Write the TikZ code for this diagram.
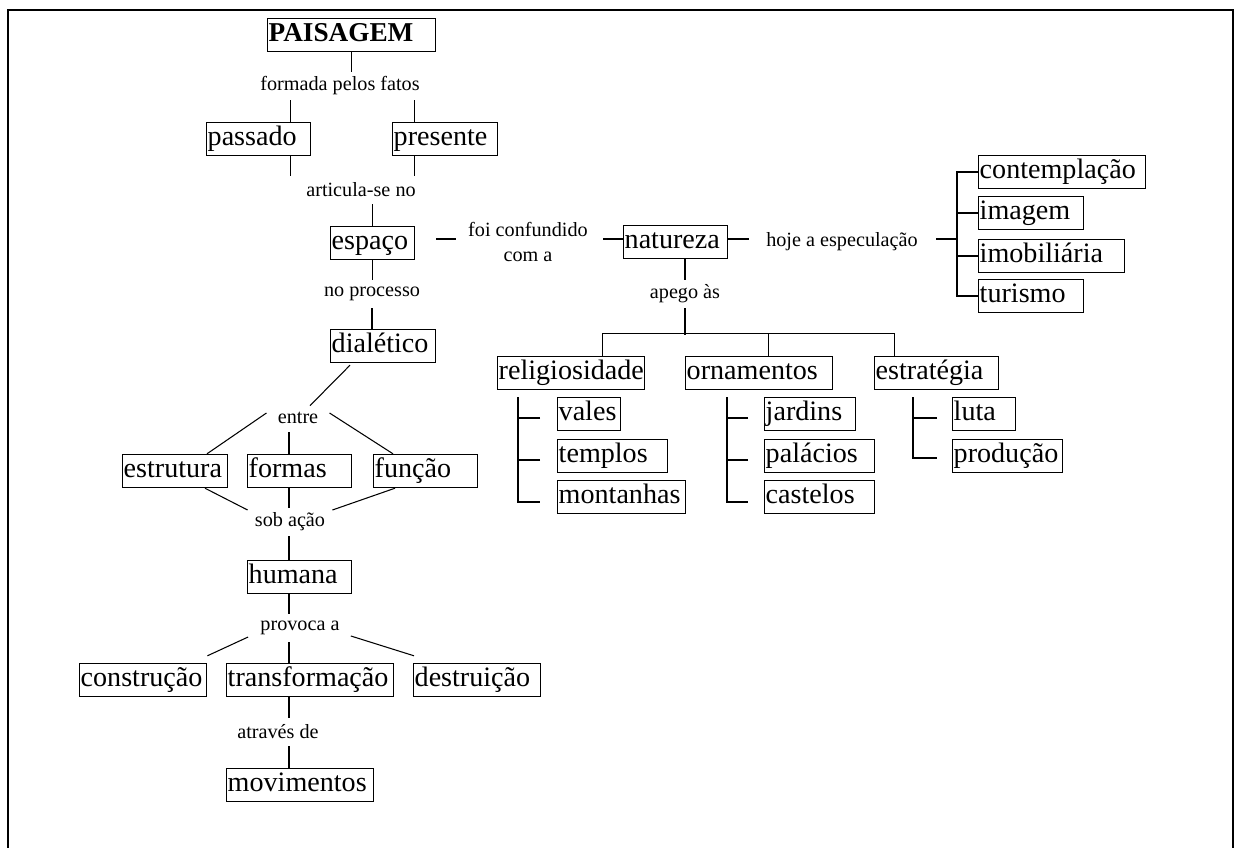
\documentclass[tikz,border=0pt]{standalone}
\usepackage{fontspec}
\setmainfont{Liberation Serif}
\usetikzlibrary{calc}
\tikzset{
  caixa/.style={draw, line width=0.8pt, anchor=west, inner xsep=0.02cm, inner ysep=0pt,
    minimum height=0.66cm, text height=11pt, text depth=3.5pt,
    text width=#1*0.02cm-0.04cm, align=left, font=\fontsize{16}{18}\selectfont},
  rotulo/.style={inner sep=0pt, minimum height=0.56cm, align=center,
    font=\fontsize{11.5}{14}\selectfont},
  liga/.style={line width=0.6pt},
  moldura/.style={line width=1.6pt}
}

\begin{document}
\begin{tikzpicture}[x=0.02cm,y=-0.02cm]
\useasboundingbox (0,0) rectangle (1237,848);
\draw[moldura] (8,860) |- (1233,10) -- (1233,860);

\node[caixa=168, font=\fontsize{15.5}{18}\selectfont\bfseries] (pai) at (267,35) {PAISAGEM};
\node[rotulo] (fatos) at (340,86) {formada pelos fatos};
\node[caixa=104] (pas) at (206,139) {passado};
\node[caixa=105] (pre) at (392,139) {presente};
\node[rotulo] (artic) at (361,190) {articula-se no};
\node[caixa=84] (esp) at (330,243) {espaço};
\node[rotulo] (proc) at (372,294) {no processo};
\node[caixa=105] (dia) at (330,346) {dialético};
\node[rotulo] (conf) at (528,242) {foi confundido\\com a};
\node[caixa=104] (nat) at (623,242) {natureza};
\node[rotulo] (hoje) at (842,242) {hoje a especulação};
\node[caixa=167] (cont) at (978,172) {contemplação};
\node[caixa=105] (img) at (978,213) {imagem};
\node[caixa=146] (imob) at (978,256) {imobiliária};
\node[caixa=105] (tur) at (978,296) {turismo};
\node[rotulo] (apego) at (685,294) {apego às};
\node[caixa=147] (rel) at (497,373) {religiosidade};
\node[caixa=147] (orn) at (685,373) {ornamentos};
\node[caixa=124] (estr) at (874,373) {estratégia};
\node[caixa=63] (vales) at (557,414) {vales};
\node[caixa=110] (templ) at (557,456) {templos};
\node[caixa=128] (mont) at (557,497) {montanhas};
\node[caixa=91] (jard) at (764,414) {jardins};
\node[caixa=110] (pal) at (764,456) {palácios};
\node[caixa=110] (cast) at (764,497) {castelos};
\node[caixa=63] (luta) at (952,414) {luta};
\node[caixa=110] (prod) at (952,456) {produção};
\node[rotulo] (entre) at (298,418) {entre};
\node[caixa=105] (estru) at (122,471) {estrutura};
\node[caixa=104] (form) at (247,471) {formas};
\node[caixa=104] (func) at (373,471) {função};
\node[rotulo] (sob) at (290,522) {sob ação};
\node[caixa=104] (hum) at (247,577) {humana};
\node[rotulo] (prov) at (300,628) {provoca a};
\node[caixa=127] (cons) at (79,680) {construção};
\node[caixa=167] (trans) at (226,680) {transformação};
\node[caixa=127] (dest) at (413,680) {destruição};
\node[rotulo] (atr) at (278,732) {através de};
\node[caixa=147] (mov) at (226,785) {movimentos};

\draw[liga] (pai.south) -- (fatos.north -| pai.south);
\draw[liga] ($(pas.north)+(32,0)$) -- ($(fatos.south -| pas.north)+(32,0)$);
\draw[liga] ($(pre.north)+(-31,0)$) -- ($(fatos.south -| pre.north)+(-31,0)$);
\draw[liga] ($(pas.south)+(32,0)$) -- ($(artic.north -| pas.south)+(32,0)$);
\draw[liga] ($(pre.south)+(-31,0)$) -- ($(artic.north -| pre.south)+(-31,0)$);
\draw[liga] (artic.south -| esp.north) -- (esp.north);
\draw[liga] (esp.south) -- (proc.north -| esp.south);
\draw[liga] (proc.south) -- (dia.north -| proc.south);

\draw[liga] ($(esp.east)+(21,-4)$) -- ++(20,0);
\draw[liga] ($(nat.west)+(0,-3)$) -- ++(-20,0);
\draw[liga] ($(nat.east)+(0,-3)$) -- ++(21,0);
\draw[liga] ($(hoje.east)+(18,-3)$) -- ($(hoje.east -| cont.west)+(-21,-3)$);
\draw[liga] (cont.west) -- ++(-21,0) |- (tur.west);
\draw[liga] (img.west) -- ++(-21,0);
\draw[liga] (imob.west) -- ++(-21,0);

\draw[liga] (nat.south -| apego.north) -- (apego.north);
\draw[liga] (apego.south) -- ++(0,27);
\draw[liga] ($(rel.north)+(31,0)$) -- ++(0,-22) -| ($(estr.north)+(-42,0)$);
\draw[liga] ($(orn.north)+(9,0)$) -- ++(0,-22);

\draw[liga] ($(rel.south west)+(21,7)$) |- ($(mont.west)+(-17,5)$);
\draw[liga] ($(vales.west)+(-17,4)$) -- ++(-22,0);
\draw[liga] ($(templ.west)+(-17,4)$) -- ++(-22,0);
\draw[liga] ($(orn.south west)+(42,7)$) |- ($(cast.west)+(-16,5)$);
\draw[liga] ($(jard.west)+(-16,4)$) -- ++(-21,0);
\draw[liga] ($(pal.west)+(-16,4)$) -- ++(-21,0);
\draw[liga] ($(estr.south west)+(39,7)$) |- ($(prod.west)+(-15,2)$);
\draw[liga] ($(luta.west)+(-15,4)$) -- ++(-24,0);

\draw[liga] ($(dia.south west)+(20,2)$) -- ($(entre.north)+(12,2)$);
\draw[liga] ($(entre.west)+(-11,-5)$) -- ($(estru.north west)+(85,0)$);
\draw[liga] ($(entre.east)+(11,-5)$) -- ($(func.north west)+(20,0)$);
\draw[liga] ($(form.north west)+(42,0)$) -- ($(entre.south -| form.north west)+(42,0)$);
\draw[liga] ($(estru.south west)+(83,0)$) -- ($(sob.west)+(-7,-12)$);
\draw[liga] ($(func.south west)+(22,0)$) -- ($(sob.east)+(7,-12)$);
\draw[liga] ($(form.south west)+(42,0)$) -- ($(sob.north -| form.south west)+(42,0)$);
\draw[liga] ($(sob.south -| hum.north west)+(42,0)$) -- ($(hum.north west)+(42,0)$);
\draw[liga] ($(hum.south west)+(42,0)$) -- ($(prov.north -| hum.south west)+(42,0)$);
\draw[liga] ($(prov.west)+(-12,9)$) -- ($(cons.north east)+(0,-7)$);
\draw[liga] ($(prov.east)+(11,8)$) -- ($(dest.north west)+(1,-7)$);
\draw[liga] ($(prov.south -| trans.north west)+(63,0)$) -- ($(trans.north west)+(63,0)$);
\draw[liga] ($(trans.south west)+(63,0)$) -- ($(atr.north -| trans.south west)+(63,0)$);
\draw[liga] ($(atr.south -| mov.north west)+(63,0)$) -- ($(mov.north west)+(63,0)$);
\end{tikzpicture}
\end{document}
